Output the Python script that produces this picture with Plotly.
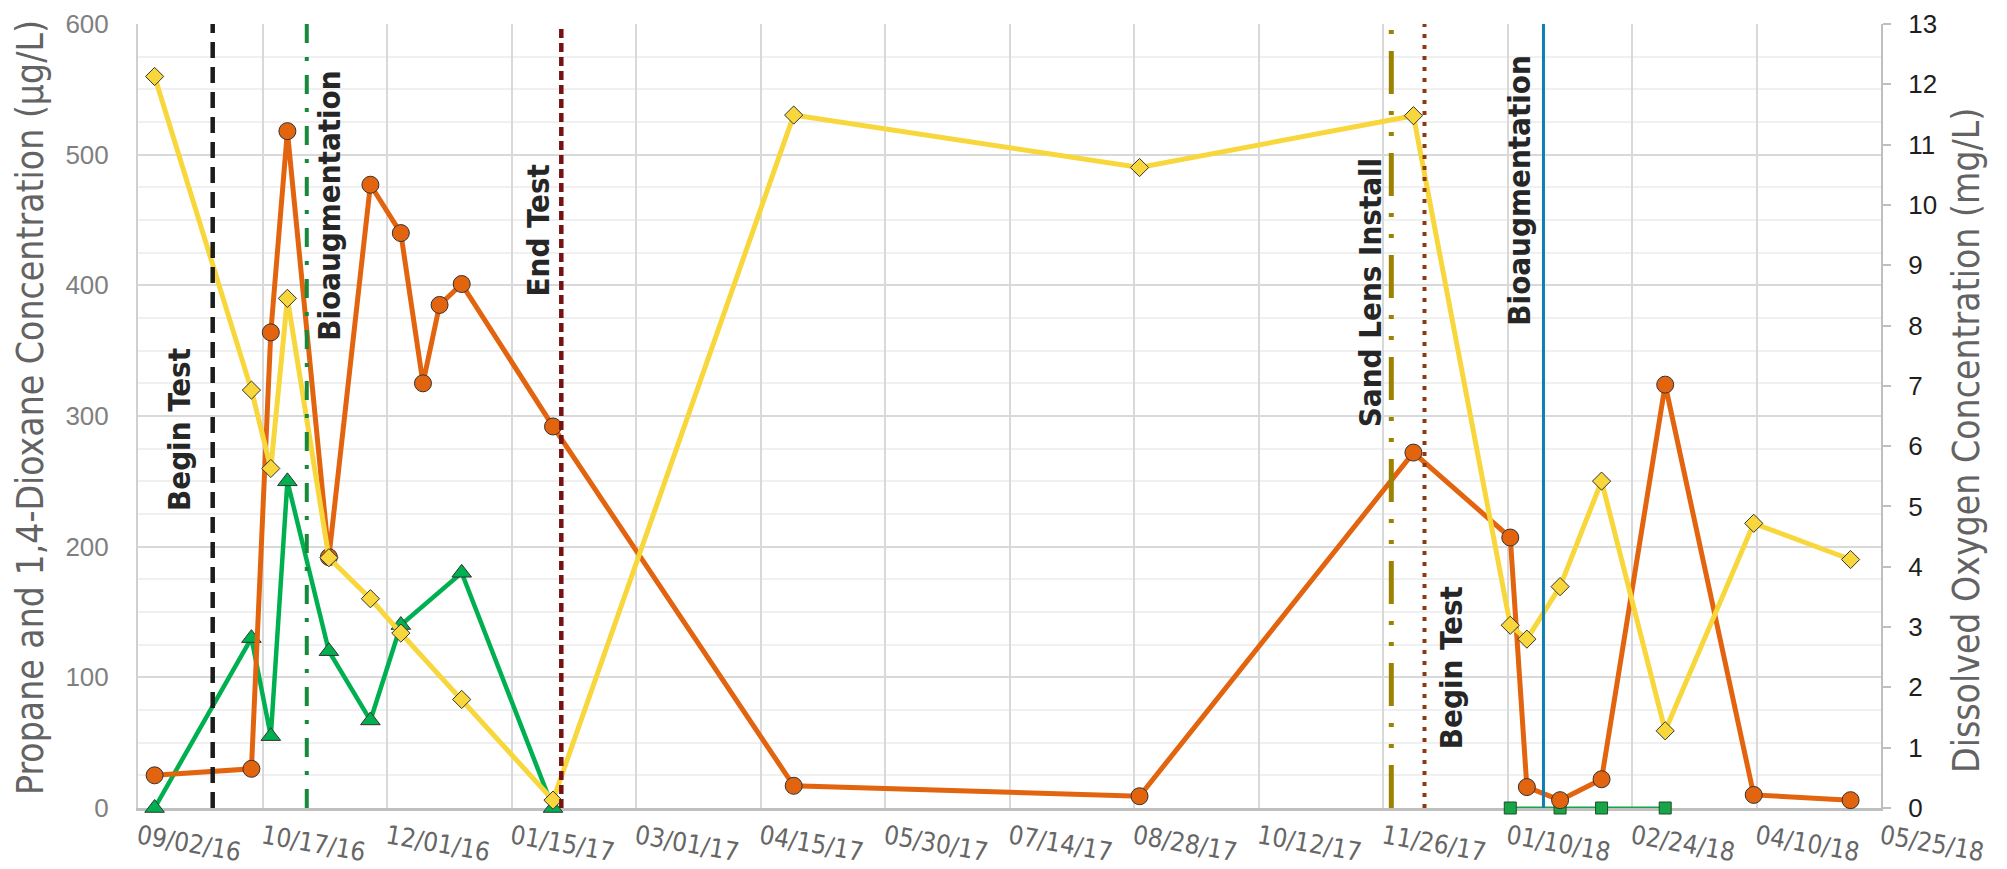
import plotly.graph_objects as go

# 1,4-dioxane (µg/L), left axis
dioxane_dates = ['2016-09-08', '2016-10-13', '2016-10-20', '2016-10-26', '2016-11-10',
                 '2016-11-25', '2016-12-06', '2016-12-14', '2016-12-20', '2016-12-28',
                 '2017-01-30', '2017-04-27', '2017-08-30', '2017-12-07', '2018-01-11',
                 '2018-01-17', '2018-01-29', '2018-02-13', '2018-03-08', '2018-04-09',
                 '2018-05-14']
dioxane = [25, 30, 364, 518, 192, 477, 440, 325, 385, 401,
           292, 17, 9, 272, 207, 16, 6, 22, 324, 10, 6]

# propane (µg/L), left axis - first test
propane1_dates = ['2016-09-08', '2016-10-13', '2016-10-20', '2016-10-26', '2016-11-10',
                  '2016-11-25', '2016-12-06', '2016-12-28', '2017-01-30']
propane1 = [0, 130, 55, 250, 120, 67, 140, 180, 0]

# propane (µg/L), left axis - second test
propane2_dates = ['2018-01-11', '2018-01-29', '2018-02-13', '2018-03-08']
propane2 = [0, 0, 0, 0]

# dissolved oxygen (mg/L), right axis
do_dates = ['2016-09-08', '2016-10-13', '2016-10-20', '2016-10-26', '2016-11-10',
            '2016-11-25', '2016-12-06', '2016-12-28', '2017-01-30', '2017-04-27',
            '2017-08-30', '2017-12-07', '2018-01-11', '2018-01-17', '2018-01-29',
            '2018-02-13', '2018-03-08', '2018-04-09', '2018-05-14']
dissolved_oxygen = [12.13, 6.93, 5.63, 8.45, 4.15, 3.47, 2.90, 1.80, 0.13, 11.49,
                    10.62, 11.48, 3.03, 2.80, 3.67, 5.42, 1.28, 4.72, 4.12]

# field events
event_dates = ['2016-09-29', '2016-11-02', '2017-02-02', '2017-11-29', '2017-12-11', '2018-01-23']
event_labels = ['Begin Test', 'Bioaugmentation', 'End Test', 'Sand Lens Install',
                'Begin Test', 'Bioaugmentation']

x_start, x_end = '2016-09-02', '2018-05-25'
DAY_MS = 86400000

NARROW = 'Liberation Sans Narrow, Arial Narrow, DejaVu Sans Condensed, sans-serif'
SANS = 'Liberation Sans, Arial, sans-serif'
ORANGE = '#E3640F'
YELLOW = '#F8D73C'
GREEN = '#00B050'
OUTLINE = '#333333'

fig = go.Figure()

fig.add_trace(go.Scatter(
    x=propane1_dates, y=propane1, mode='lines+markers', name='Propane', cliponaxis=False,
    line=dict(color=GREEN, width=4.5),
    marker=dict(symbol='triangle-up', size=17, color=GREEN, line=dict(color=OUTLINE, width=1))))
fig.add_trace(go.Scatter(
    x=propane2_dates, y=propane2, mode='lines+markers', name='Propane (2018)', cliponaxis=False,
    line=dict(color='#17A547', width=3),
    marker=dict(symbol='square', size=12, color='#17A547', line=dict(color='#1d4d2a', width=1))))
fig.add_trace(go.Scatter(
    x=do_dates, y=dissolved_oxygen, mode='lines+markers', name='Dissolved Oxygen',
    yaxis='y2', cliponaxis=False,
    line=dict(color=YELLOW, width=5),
    marker=dict(symbol='diamond', size=14, color=YELLOW, line=dict(color=OUTLINE, width=1))))
fig.add_trace(go.Scatter(
    x=dioxane_dates, y=dioxane, mode='lines+markers', name='1,4-Dioxane', cliponaxis=False,
    line=dict(color=ORANGE, width=5),
    marker=dict(symbol='circle', size=17, color=ORANGE, line=dict(color=OUTLINE, width=1))))

# styling for each event line and its label
event_styles = [
    dict(color='#1c1c1c', width=4.5, dash='16px,9px', xshift=-33, y=0.483),
    dict(color='#16893B', width=4, dash='19px,14px,4px,14px', xshift=22, y=0.769),
    dict(color='#761212', width=4.5, dash='9px,5px', xshift=-23, y=0.737),
    dict(color='#9C8200', width=5, dash='43px,17px,4px,17px,4px,17px', xshift=-21, y=0.657),
    dict(color='#8B3A10', width=4, dash='4px,7px', xshift=26, y=0.179),
    dict(color='#0E7FB2', width=3, dash='solid', xshift=-24, y=0.788),
]

for date, label, st in zip(event_dates, event_labels, event_styles):
    fig.add_shape(type='line', xref='x', yref='paper', x0=date, x1=date, y0=0, y1=1,
                  line=dict(color=st['color'], width=st['width'], dash=st['dash']),
                  layer='above')
    fig.add_annotation(x=date, y=st['y'], xref='x', yref='paper', text=label,
                       showarrow=False, textangle=-90, xshift=st['xshift'],
                       xanchor='center', yanchor='middle',
                       font=dict(family=NARROW, size=31, color='#262626', weight='bold'))

# axis titles (placed in pixels, converted to paper below)
fig.add_annotation(x=30, y=408, xref='paper', yref='paper', text='Propane and 1,4-Dioxane Concentration (µg/L)',
                   showarrow=False, textangle=-90, xanchor='center', yanchor='middle',
                   font=dict(family=NARROW, size=37, color='#636363'))
fig.add_annotation(x=1967, y=440, xref='paper', yref='paper', text='Dissolved Oxygen Concentration (mg/L)',
                   showarrow=False, textangle=-90, xanchor='center', yanchor='middle',
                   font=dict(family=NARROW, size=37, color='#636363'))

W, H = 2007, 869
ML, MR, MT, MB = 138, 126, 24, 61
pw, ph = W - ML - MR, H - MT - MB
for ann in fig.layout.annotations[-2:]:
    ann.x = (ann.x - ML) / pw
    ann.y = (H - MB - ann.y) / ph

fig.update_layout(
    width=W, height=H,
    margin=dict(l=ML, r=MR, t=MT, b=MB, autoexpand=False),
    paper_bgcolor='white', plot_bgcolor='white',
    showlegend=False,
    xaxis=dict(
        type='date', range=[x_start, x_end], tick0=x_start, dtick=45 * DAY_MS,
        tickformat='%m/%d/%y', tickangle=10, automargin=False,
        tickfont=dict(family=NARROW, size=26, color='#666666'),
        showgrid=True, gridcolor='#d9d9d9', gridwidth=2,
        showline=True, linecolor='#bfbfbf', linewidth=3, layer='below traces',
        ticks='', ticklabelstandoff=1, zeroline=False),
    yaxis=dict(
        range=[0, 600], dtick=100, tick0=0, automargin=False,
        tickfont=dict(family=SANS, size=26, color='#7f7f7f'),
        showgrid=True, gridcolor='#d9d9d9', gridwidth=2,
        minor=dict(dtick=25, showgrid=True, gridcolor='#f0f0f0', gridwidth=1.5),
        showline=True, linecolor='#d0d0d0', linewidth=2, layer='below traces',
        ticks='', ticklabelstandoff=22, zeroline=False),
    yaxis2=dict(
        range=[0, 13], dtick=1, tick0=0, overlaying='y', side='right', automargin=False,
        tickfont=dict(family=SANS, size=26, color='#1f1f1f'),
        showgrid=False, showline=True, linecolor='#bfbfbf', linewidth=2,
        ticks='outside', ticklen=8, tickcolor='#bfbfbf', tickwidth=2,
        ticklabelstandoff=12, zeroline=False),
)

fig.write_html('out.html')
